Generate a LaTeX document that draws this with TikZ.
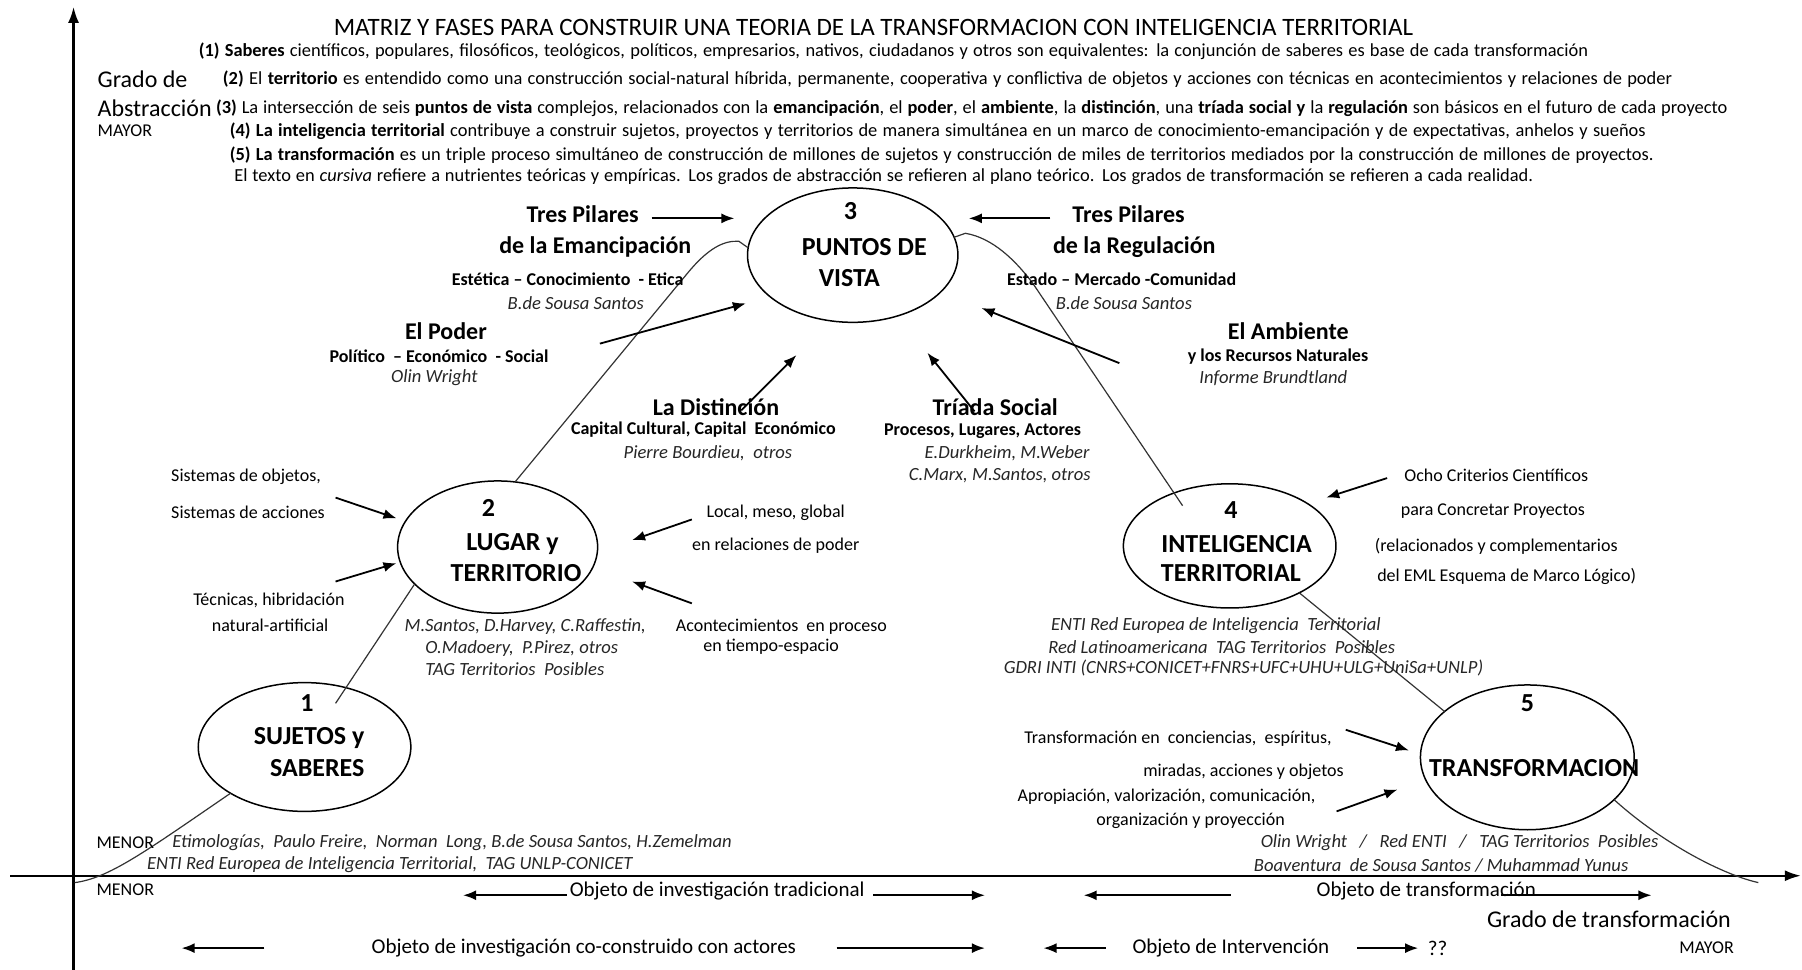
\documentclass[tikz,border=0pt]{standalone}
\usepackage{fontspec}
\setmainfont{Carlito}
\usetikzlibrary{shapes.geometric,arrows.meta,calc}
\newlength\Du \setlength\Du{0.5746pt}
\newcommand\fsz[1]{\fontsize{#1}{#1}\selectfont}
\newcommand\fitw[2]{\makebox[#1\Du][s]{#2}}
\tikzset{
 every node/.style={inner sep=0pt, outer sep=0pt},
 ell/.style={draw, ellipse, line width=0.75pt, inner sep=0pt},
 etx/.style={font=\fsz{13}\bfseries},
 lab/.style={font=\fsz{12}\bfseries},
 sub/.style={font=\fsz{9}\bfseries},
 aut/.style={font=\fsz{9.3}\itshape, text=black!85},
 sm/.style={font=\fsz{9}},
 hdr/.style={font=\fsz{9.2}, anchor=west},
 big/.style={font=\fsz{12}},
 ttl/.style={font=\fsz{12.5}},
 row/.style={font=\fsz{10.5}},
 arr/.style={-{Latex[length=6.5pt,width=5pt]}, line width=0.9pt},
 axis/.style={-{Latex[length=8pt,width=5.5pt]}, line width=1.1pt},
 crv/.style={line width=0.6pt, black!80},
}
\begin{document}
\begin{tikzpicture}[x=0.5746pt,y=-0.5746pt]
\fill[white] (0,0) rectangle (1568,844);
\useasboundingbox (0,0) rectangle (1568,844);

% axes
\coordinate (vB) at (64,844); \coordinate (vT) at (64,6);
\coordinate (hL) at (9,762); \coordinate (hR) at (1567,762);
\draw[axis] (vB) -- (vT);
\draw[axis] (hL) -- (hR);

% header
\node[ttl] (title) at (760,24) {MATRIZ Y FASES PARA CONSTRUIR UNA TEORIA DE LA TRANSFORMACION CON INTELIGENCIA TERRITORIAL};
\node[hdr] (h1) at (173,45) {\fitw{1209}{\textbf{(1) Saberes} científicos, populares, filosóficos, teológicos, políticos, empresarios, nativos, ciudadanos y otros son equivalentes: la conjunción de saberes es base de cada transformación}};
\node[hdr] (h2) at (194,69) {\fitw{1261}{\textbf{(2)} El \textbf{territorio} es entendido como una construcción social-natural híbrida, permanente, cooperativa y conflictiva de objetos y acciones con técnicas en acontecimientos y relaciones de poder}};
\node[hdr] (h3) at (188,94) {\fitw{1315}{\textbf{(3)} La intersección de seis \textbf{puntos de vista} complejos, relacionados con la \textbf{emancipación}, el \textbf{poder}, el \textbf{ambiente}, la \textbf{distinción}, una \textbf{tríada social y} la \textbf{regulación} son básicos en el futuro de cada proyecto}};
\node[hdr] (h4) at (200,114) {\fitw{1232}{\textbf{(4) La inteligencia territorial} contribuye a construir sujetos, proyectos y territorios de manera simultánea en un marco de conocimiento-emancipación y de expectativas, anhelos y sueños}};
\node[hdr] (h5) at (200,135) {\fitw{1239}{\textbf{(5) La transformación} es un triple proceso simultáneo de construcción de millones de sujetos y construcción de miles de territorios mediados por la construcción de millones de proyectos.}};
\node[hdr] (h6) at (204,154) {\fitw{1130}{El texto en \textit{cursiva} refiere a nutrientes teóricas y empíricas. Los grados de abstracción se refieren al plano teórico. Los grados de transformación se refieren a cada realidad.}};
\node[big, anchor=west] (gA) at (85,69) {Grado de};
\node[big, anchor=west] (gB) at (85,94) {Abstracción};
\node[sm, anchor=west] (mayT) at (85,114) {MAYOR};

% ellipses
\node[ell, minimum width=106.3pt, minimum height=64.4pt] (e1) at (265,650) {};
\node[ell, minimum width=100.0pt, minimum height=66.1pt] (e2) at (433,476) {};
\node[ell, minimum width=105.2pt, minimum height=67.2pt] (e3) at (742,222) {};
\node[ell, minimum width=106.3pt, minimum height=62.1pt] (e4) at (1070,475) {};
\node[ell, minimum width=106.9pt, minimum height=72.4pt] (e5) at (1329,659) {};

\node[etx] (n1) at (267,612) {1};
\node[etx] (t1a) at (269,642) {SUJETOS y};
\node[etx] (t1b) at (276,668) {SABERES};
\node[etx] (n2) at (425,442) {2};
\node[etx] (t2a) at (446,473) {LUGAR y};
\node[etx] (t2b) at (449,499) {TERRITORIO};
\node[etx] (n3) at (740,184) {3};
\node[etx] (t3a) at (752,215) {PUNTOS DE};
\node[etx] (t3b) at (739,242) {VISTA};
\node[etx] (n4) at (1071,444) {4};
\node[etx] (t4a) at (1076,473) {INTELIGENCIA};
\node[etx] (t4b) at (1071,499) {TERRITORIAL};
\node[etx] (n5) at (1329,612) {5};
\node[etx] (t5a) at (1335,668) {TRANSFORMACION};

% the curve
\coordinate (cL) at (65,768);
\coordinate (cR) at (1530,768);
\draw[crv] (e1.212) .. controls (125,742) and (95,764) .. (cL);
\draw[crv] ($(e1.center)+(27,-38)$) -- (e2.204);
\draw[crv] (e2.75) -- (598,238) .. controls (616,216) and (630,209) .. (643,210) -- (e3.176);
\draw[crv] (e3.10) -- (840,203) .. controls (864,207) and (884,227) .. (899,247) -- ($(e4.center)+(-41,-35)$);
\draw[crv] (e4.326) -- (e5.151);
\draw[crv] (e5.334) .. controls (1442,730) and (1495,760) .. (cR);

% labels around 3
\node[lab] (tpL) at (507,186) {Tres Pilares};
\node[lab] (emL) at (518,215) {de la Emancipación};
\node[sub] (esL) at (494,243) {Estética – Conocimiento\ \ - Etica};
\node[aut] (bsL) at (501,264) {B.de Sousa Santos};
\node[lab] (poL) at (388,288) {El Poder};
\node[sub] (peL) at (382,310) {Político\ \ – Económico\ \ - Social};
\node[aut] (owL) at (378,329) {Olin Wright};
\node[lab] (diL) at (623,354) {La Distinción};
\node[sub] (ccL) at (612,374) {Capital Cultural, Capital\ \ Económico};
\node[aut] (pbL) at (616,394) {Pierre Bourdieu,\ \ otros};
\node[lab] (trL) at (866,354) {Tríada Social};
\node[sub] (plL) at (855,375) {Procesos, Lugares, Actores};
\node[aut, anchor=east] (dwL) at (948,394) {E.Durkheim, M.Weber};
\node[aut, anchor=east] (cmL) at (949,414) {C.Marx, M.Santos, otros};
\node[lab] (tpR) at (982,186) {Tres Pilares};
\node[lab] (reR) at (987,215) {de la Regulación};
\node[sub] (emR) at (976,243) {Estado – Mercado -Comunidad};
\node[aut] (bsR) at (978,264) {B.de Sousa Santos};
\node[lab] (amR) at (1121,288) {El Ambiente};
\node[sub] (rnR) at (1112,310) {y los Recursos Naturales};
\node[aut] (ibR) at (1108,329) {Informe Brundtland};

% labels around 2
\node[sm, anchor=west] (so2) at (149,415) {Sistemas de objetos,};
\node[sm, anchor=west] (sa2) at (149,446) {Sistemas de acciones};
\node[sm] (te2) at (234,522) {Técnicas, hibridación};
\node[sm] (na2) at (235,544) {natural-artificial};
\node[sm] (lo2) at (675,446) {Local, meso, global};
\node[sm] (rp2) at (675,475) {en relaciones de poder};
\node[sm] (ac2) at (680,545) {Acontecimientos\ \ en proceso};
\node[sm] (ti2) at (671,563) {en tiempo-espacio};
\node[aut] (au2a) at (457,545) {M.Santos, D.Harvey, C.Raffestin,};
\node[aut] (au2b) at (454,564) {O.Madoery,\ \ P.Pirez, otros};
\node[aut] (au2c) at (448,582) {TAG Territorios\ \ Posibles};

% labels around 4
\node[sm] (oc4) at (1302,414) {Ocho Criterios Científicos};
\node[sm] (pc4) at (1299,445) {para Concretar Proyectos};
\node[sm] (rc4) at (1302,475) {(relacionados y complementarios};
\node[sm] (em4) at (1311,502) {del EML Esquema de Marco Lógico)};
\node[aut] (au4a) at (1058,544) {ENTI Red Europea de Inteligencia\ \ Territorial};
\node[aut] (au4b) at (1063,563) {Red Latinoamericana\ \ TAG Territorios\ \ Posibles};
\node[aut] (au4c) at (1082,581) {GDRI INTI (CNRS+CONICET+FNRS+UFC+UHU+ULG+UniSa+UNLP)};

% labels around 5
\node[sm] (tc5) at (1025,643) {Transformación en\ \ conciencias,\ \ espíritus,};
\node[sm] (mi5) at (1082,672) {miradas, acciones y objetos};
\node[sm] (ap5) at (1015,693) {Apropiación, valorización, comunicación,};
\node[sm] (or5) at (1036,714) {organización y proyección};
\node[aut] (au5a) at (1270,733) {Olin Wright\ \ \ /\ \ \ Red ENTI\ \ \ /\ \ \ TAG Territorios\ \ Posibles};
\node[aut] (au5b) at (1254,753) {Boaventura\ \ de Sousa Santos / Muhammad Yunus};

% labels around 1
\node[sm, anchor=west] (menA) at (84,733) {MENOR};
\node[aut, anchor=west] (au1a) at (150,733) {Etimologías,\ \ Paulo Freire,\ \ Norman\ \ Long, B.de Sousa Santos, H.Zemelman};
\node[aut, anchor=west] (au1b) at (128,752) {ENTI Red Europea de Inteligencia Territorial,\ \ TAG UNLP-CONICET};
\node[sm, anchor=west] (menB) at (84,774) {MENOR};

% bottom rows
\node[row] (otr) at (624,775) {Objeto de investigación tradicional};
\node[row] (otf) at (1241,775) {Objeto de transformación};
\node[big] (gtr) at (1400,800) {Grado de transformación};
\node[row] (occ) at (508,825) {Objeto de investigación co-construido con actores};
\node[row] (oin) at (1071,825) {Objeto de Intervención};
\node[row] (qq) at (1251,825) {??};
\node[sm] (mayB) at (1485,825) {MAYOR};

% arrows
\coordinate (a1s) at (567,190);  \coordinate (a1e) at (639,190);
\coordinate (a2s) at (914,190);  \coordinate (a2e) at (843,190);
\coordinate (a3s) at (522,299);  \coordinate (a3e) at (649,264);
\coordinate (a4s) at (645,357);  \coordinate (a4e) at (693,309);
\coordinate (a5s) at (848,358);  \coordinate (a5e) at (807,307);
\coordinate (a6s) at (974,316);  \coordinate (a6e) at (854,268);
\coordinate (a7s) at (292,433);  \coordinate (a7e) at (345,451);
\coordinate (a8s) at (292,506);  \coordinate (a8e) at (345,490);
\coordinate (a9s) at (602,452);  \coordinate (a9e) at (550,470);
\coordinate (a10s) at (602,525); \coordinate (a10e) at (550,506);
\coordinate (a11s) at (1207,416); \coordinate (a11e) at (1154,433);
\coordinate (a12s) at (1171,635); \coordinate (a12e) at (1226,653);
\coordinate (a13s) at (1163,706); \coordinate (a13e) at (1216,687);
\foreach \i in {1,...,13} \draw[arr] (a\i s) -- (a\i e);

\coordinate (b1s) at (493,779);  \coordinate (b1e) at (403,779);
\coordinate (b2s) at (760,779);  \coordinate (b2e) at (857,779);
\coordinate (b3s) at (1071,779); \coordinate (b3e) at (943,779);
\coordinate (b4s) at (1306,779); \coordinate (b4e) at (1437,779);
\coordinate (b5s) at (230,825);  \coordinate (b5e) at (158,825);
\coordinate (b6s) at (728,825);  \coordinate (b6e) at (857,825);
\coordinate (b7s) at (962,825);  \coordinate (b7e) at (908,825);
\coordinate (b8s) at (1181,825); \coordinate (b8e) at (1234,825);
\foreach \i in {1,...,8} \draw[arr] (b\i s) -- (b\i e);
\end{tikzpicture}
\end{document}
